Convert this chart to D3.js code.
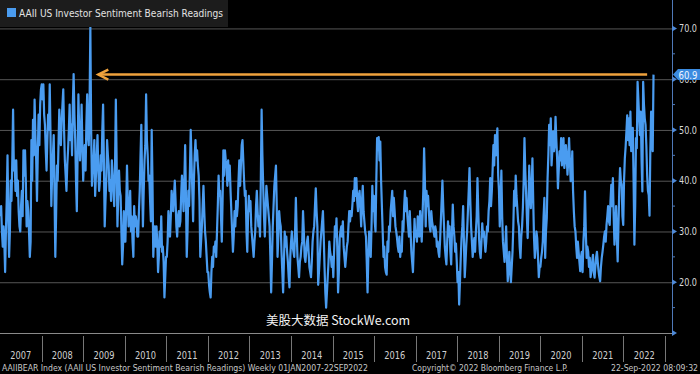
<!DOCTYPE html>
<html>
<head>
<meta charset="utf-8">
<script src="https://cdn.jsdelivr.net/npm/d3@7"></script>
<style>
  body { margin: 0; background: #000; }
  svg { display: block; }
  text { font-family: "DejaVu Sans Condensed", "Liberation Sans", sans-serif; }
</style>
</head>
<body>
<svg id="chart" width="700" height="374"></svg>
<script>
// DATA: weekly AAII bearish readings (%), one array per calendar year (Thursdays)
const bear2007 = [33, 35, 30, 27, 31, 28, 22, 30, 36, 45, 33, 25, 30, 40, 36, 44, 54, 42, 44, 38, 44, 37, 40, 34, 31, 30, 35, 38, 33, 46, 41, 46, 40, 31, 36, 34, 30, 25, 28, 48, 40, 52, 45, 56, 49, 44, 36, 45, 53, 47, 55, 58];
const bear2008 = [59, 56, 59, 53, 51, 46, 42, 48, 53, 50, 59, 49, 35, 41, 45, 49, 38, 25, 33, 43, 40, 47, 54, 49, 47, 52, 55, 58, 50, 44, 41, 38, 43, 46, 50, 55, 48, 51, 45, 55, 61, 53, 48, 40, 34, 45, 57, 50, 44, 48, 55, 47];
const bear2009 = [40, 44, 47, 42, 51, 57, 49, 47, 55, 70.3, 50, 39, 42, 44, 48, 37, 41, 45, 49, 42, 38, 40, 45, 42, 50, 55, 44, 31, 36, 40, 48, 45, 43, 38, 40, 36, 44, 41, 38, 35, 43, 56, 44, 31, 37, 42, 38, 37, 30, 23.5, 27, 34, 28];
const bear2010 = [28, 35, 43, 36, 31, 34, 38, 30, 33, 28, 25, 35, 31, 33, 32, 29, 29, 34, 38, 45, 51, 40, 31, 38, 44, 47, 57, 48, 45, 40, 41, 36, 32, 50, 40, 25, 29, 31, 27, 31, 28, 22, 25, 30, 27, 33, 26, 27, 24, 17, 21, 25];
const bear2011 = [25, 28, 34, 31, 29, 33, 38, 36, 34, 37, 40, 36, 31, 29, 33, 34, 31, 32, 37, 41, 38, 34, 40, 47, 37, 25, 30, 38, 35, 42, 50, 44, 38, 32, 40, 45, 48, 44, 46, 43, 41, 36, 25, 28, 31, 35, 39, 34, 30, 28, 25, 22];
const bear2012 = [22, 19.5, 18, 17, 22, 25, 23, 27, 26, 28, 25, 30, 35, 41, 37, 38, 33, 28, 36, 46, 41, 46, 44, 43, 39, 44, 40, 43, 38, 34, 30, 26, 29, 34, 31, 36, 33, 35, 40, 44, 39, 43, 47, 48, 44, 40, 37, 38, 30, 26, 33, 37];
const bear2013 = [34, 36, 31, 29, 27, 25, 28, 30, 35, 38, 34, 31, 33, 29, 40, 54, 45, 39, 33, 29, 34, 39, 37, 35, 33, 31, 25, 18, 24, 31, 35, 39, 41, 43, 35, 25, 29, 34, 32, 31, 26, 22, 18, 24, 30, 27, 29, 26, 24, 21, 19, 25];
const bear2014 = [28, 30, 27, 26, 25, 30, 36.6, 30, 25, 23, 21, 24, 25, 27, 28, 34, 30, 25, 24, 26, 28, 29, 26, 23, 22, 21, 24, 28, 30, 31, 35, 38.5, 34, 31, 19.5, 22, 25, 28, 30, 32, 34, 29, 23, 18, 15, 18, 21, 24, 28, 26, 25, 23];
const bear2015 = [25, 21, 26, 31, 29, 32.6, 27, 18, 22, 28.7, 30, 31, 29, 32, 27, 25, 23, 25, 27, 28, 31, 34, 32, 34, 33, 35.3, 38, 36, 40.5, 37, 40.5, 36, 34, 37, 38, 35, 31, 36, 39, 34, 32, 30, 29, 24, 18, 25, 30, 27, 25, 31, 39, 34, 37];
const bear2016 = [32, 30, 40, 48.4, 46, 48.6, 44, 47.7, 40, 35, 30, 25, 27, 23, 22, 21.5, 28, 26, 31, 30, 34, 36, 38, 33, 36.6, 34, 31, 30, 28.7, 27, 26, 29, 25, 27, 26, 32, 30, 35, 38, 34, 36.6, 33, 31, 29, 34, 30, 26, 24, 22, 27, 32.5, 29];
const bear2017 = [30, 28, 33, 31, 29, 34, 31, 28, 33, 38, 46.4, 40, 31, 38, 35, 37, 34, 31, 30, 34, 32, 31, 30, 29, 31, 30, 27, 28, 26, 25, 28, 32, 36, 40, 35, 31, 27, 25, 23.5, 28, 32, 29, 31, 26, 23.5, 30, 35.3, 31, 29, 26, 27.6, 24];
const bear2018 = [20, 22, 15.6, 20, 24.8, 28.7, 31, 35, 28, 21, 24, 27.5, 30, 34, 38, 42.5, 36, 31, 28, 25, 27, 28.7, 26, 30, 33, 40.5, 34, 28.7, 26, 24.8, 28, 31.6, 29, 30, 28, 26, 28, 31, 30, 34, 36, 40.5, 35, 37.9, 42, 47, 43, 49, 45, 48, 50.3, 41];
const bear2019 = [38, 31, 36, 42, 33, 28, 26, 24, 27, 31, 25, 20.2, 23, 26, 22, 20, 23, 26, 31, 38, 35, 41, 37, 34.6, 32, 31, 27, 24.8, 29, 31, 34.6, 40, 48.4, 42, 37.9, 33, 28.7, 35, 43, 38, 34.6, 39, 44.4, 36, 28.7, 24.8, 27, 30, 28.7, 25, 21, 23];
const bear2020 = [23, 24.8, 26, 28, 33, 36.6, 24.8, 30, 32.6, 40.5, 45, 51, 47, 52.3, 43, 46, 49.7, 45.8, 47, 52.6, 48, 44.4, 38.5, 42, 45.8, 44, 48.4, 43, 46, 48.4, 42.5, 44, 47, 45, 41.2, 44, 48.4, 44, 39.9, 41, 45.8, 38, 34, 31, 30, 27, 24.8, 28, 26, 24, 22.2, 25, 26];
const bear2021 = [22, 28, 31, 37.9, 30, 24.8, 27, 26, 23, 24.8, 21, 22.2, 24, 25.4, 22, 20.9, 23, 25, 26, 24, 22.2, 21, 20.2, 23, 24.8, 26, 27.4, 29, 30, 28, 31.3, 33, 35, 32, 31.3, 36, 39.2, 35, 40.5, 33, 27.4, 31, 35, 29, 24.1, 31.3, 38, 42.5, 40, 39.2, 33, 31.3];
const bear2022 = [40, 44.4, 46.7, 49.7, 52.9, 48, 52.3, 47, 53.6, 45.8, 48, 50.4, 40, 27.4, 35, 48.4, 46.4, 59.5, 56, 52.3, 49, 53.6, 44, 37.9, 59.5, 55, 52.3, 51, 47, 41.2, 38, 37.2, 33.1, 45.8, 53.6, 48, 45.8, 60.9];

const firstWeek = new Date(2007, 0, 4);
const years = d3.range(2007, 2023);
const yTicks = [10, 20, 30, 40, 50, 60, 70];
const yMinor = [15, 25, 35, 45, 55, 65];
const arrowFrom = new Date(2009, 4, 14), arrowTo = new Date(2022, 6, 28);

const legendText = "AAII US Investor Sentiment Bearish Readings";
const footLeft = "AAIIBEAR Index (AAII US Investor Sentiment Bearish Readings)  Weekly 01JAN2007-22SEP2022";
const footMid = "Copyright\u00A9 2022 Bloomberg Finance L.P.";
const footRight = "22-Sep-2022 08:09:32";
const watermark = "美股大数据 StockWe.com";

// SETUP
const axisX = 672, plotBottom = 333;
const blue = "#4a9cf0", gridCol = "#555", orange = "#f0a23c";

const values = [].concat(bear2007, bear2008, bear2009, bear2010, bear2011, bear2012, bear2013,
  bear2014, bear2015, bear2016, bear2017, bear2018, bear2019, bear2020, bear2021, bear2022);
const data = values.map((v, i) => ({ date: d3.timeDay.offset(firstWeek, i * 7), value: v }));
const last = data[data.length - 1];

const svg = d3.select("#chart");
svg.append("rect").attr("width", 700).attr("height", 374).attr("fill", "#000");

// SCALES
const x = d3.scaleTime()
  .domain([new Date(2007, 0, 1), new Date(2023, 0, 1)])
  .range([0, 665]);
const y = d3.scaleLinear().domain([10, 75.6]).range([plotBottom, 0]);

// GRIDLINES
svg.append("g").selectAll("line")
  .data(yTicks.filter(d => d > 10))
  .join("line")
  .attr("x1", 0).attr("x2", axisX)
  .attr("y1", d => y(d) + 0.5).attr("y2", d => y(d) + 0.5)
  .attr("stroke", gridCol).attr("stroke-width", 1);

// LINE
const line = d3.line().x(d => x(d.date)).y(d => y(d.value));
svg.append("path")
  .datum(data)
  .attr("fill", "none")
  .attr("stroke", blue)
  .attr("stroke-width", 2.2)
  .attr("stroke-linejoin", "round")
  .attr("d", line);

// ORANGE ARROW at the latest reading
const ay = y(last.value);
svg.append("line")
  .attr("x1", x(arrowFrom) + 1).attr("x2", x(arrowTo))
  .attr("y1", ay).attr("y2", ay)
  .attr("stroke", orange).attr("stroke-width", 2.5);
svg.append("polyline")
  .attr("points", `${x(arrowFrom) + 10},${ay - 5} ${x(arrowFrom)},${ay} ${x(arrowFrom) + 10},${ay + 5}`)
  .attr("fill", "none").attr("stroke", orange).attr("stroke-width", 2.5);

// RIGHT AXIS
const yAxis = svg.append("g")
  .attr("transform", `translate(${axisX},0)`)
  .call(d3.axisRight(y).tickValues(yTicks.filter(d => d > 10))
    .tickFormat(d3.format(".1f")).tickSize(0).tickPadding(7));
yAxis.select(".domain").remove();
yAxis.selectAll("text")
  .attr("fill", "#d8d8d8")
  .style("font-size", "10px")
  .style("font-family", "'DejaVu Sans Condensed', sans-serif")
  .attr("textLength", 18).attr("lengthAdjust", "spacingAndGlyphs");

svg.append("line")
  .attr("x1", axisX + 0.5).attr("x2", axisX + 0.5)
  .attr("y1", 0).attr("y2", plotBottom)
  .attr("stroke", "#4f79b8").attr("stroke-width", 1);
svg.append("g").selectAll("path")
  .data(yTicks)
  .join("path")
  .attr("d", d => `M${axisX},${y(d) - 3}L${axisX + 5},${y(d)}L${axisX},${y(d) + 3}Z`)
  .attr("fill", "#4f8ad8");
svg.append("g").selectAll("line")
  .data(yMinor)
  .join("line")
  .attr("x1", axisX).attr("x2", axisX + 3)
  .attr("y1", d => y(d)).attr("y2", d => y(d))
  .attr("stroke", "#4f79b8");

// last value tag
svg.append("path")
  .attr("d", `M${axisX + 1},${ay}L${axisX + 6},${ay - 5.5}L700,${ay - 5.5}L700,${ay + 5.5}L${axisX + 6},${ay + 5.5}Z`)
  .attr("fill", "#3b8be0");
svg.append("text")
  .attr("x", 688).attr("y", ay + 4)
  .attr("text-anchor", "middle")
  .attr("fill", "#eef4ff")
  .style("font-size", "10px")
  .attr("textLength", 19).attr("lengthAdjust", "spacingAndGlyphs")
  .text(d3.format(".1f")(last.value));

// X AXIS BAND
svg.append("line")
  .attr("x1", 0).attr("x2", axisX)
  .attr("y1", plotBottom + 0.5).attr("y2", plotBottom + 0.5)
  .attr("stroke", "#8a8a8a");
svg.append("g").selectAll("line")
  .data(years.map(yr => yr + 1))
  .join("line")
  .attr("x1", d => Math.round(x(new Date(d, 0, 1))) + 0.5)
  .attr("x2", d => Math.round(x(new Date(d, 0, 1))) + 0.5)
  .attr("y1", plotBottom + 3).attr("y2", 362)
  .attr("stroke", "#777");
svg.append("g").selectAll("text")
  .data(years)
  .join("text")
  .attr("x", d => (x(new Date(d, 0, 1)) + x(new Date(d + 1, 0, 1))) / 2)
  .attr("y", 359)
  .attr("text-anchor", "middle")
  .attr("fill", "#d0d0d0")
  .style("font-size", "11px")
  .attr("textLength", 21).attr("lengthAdjust", "spacingAndGlyphs")
  .text(d => d);

// FOOTER
const foot = [
  { t: footLeft, x: 2, w: 366, fs: 9 },
  { t: footMid, x: 412, w: 156, fs: 9 },
  { t: footRight, x: 611, w: 87, fs: 8 }
];
svg.append("g").selectAll("text")
  .data(foot)
  .join("text")
  .attr("x", d => d.x).attr("y", 371)
  .attr("fill", "#c8c8c8")
  .style("font-size", d => d.fs + "px")
  .attr("textLength", d => d.w).attr("lengthAdjust", "spacingAndGlyphs")
  .text(d => d.t);

// WATERMARK
svg.append("text")
  .attr("x", 338).attr("y", 325)
  .attr("text-anchor", "middle")
  .attr("fill", "#f2f2f2")
  .style("font-family", "'Noto Sans CJK SC', sans-serif")
  .style("font-size", "12.5px")
  .text(watermark);

// LEGEND
svg.append("rect").attr("x", 0).attr("y", 0).attr("width", 228).attr("height", 27).attr("fill", "#1c1c1c");
svg.append("rect").attr("x", 7).attr("y", 8).attr("width", 9).attr("height", 9).attr("fill", blue);
svg.append("text")
  .attr("x", 19).attr("y", 17)
  .attr("fill", "#e2e2e2")
  .style("font-size", "11px")
  .attr("textLength", 204).attr("lengthAdjust", "spacingAndGlyphs")
  .text(legendText);
</script>
</body>
</html>
